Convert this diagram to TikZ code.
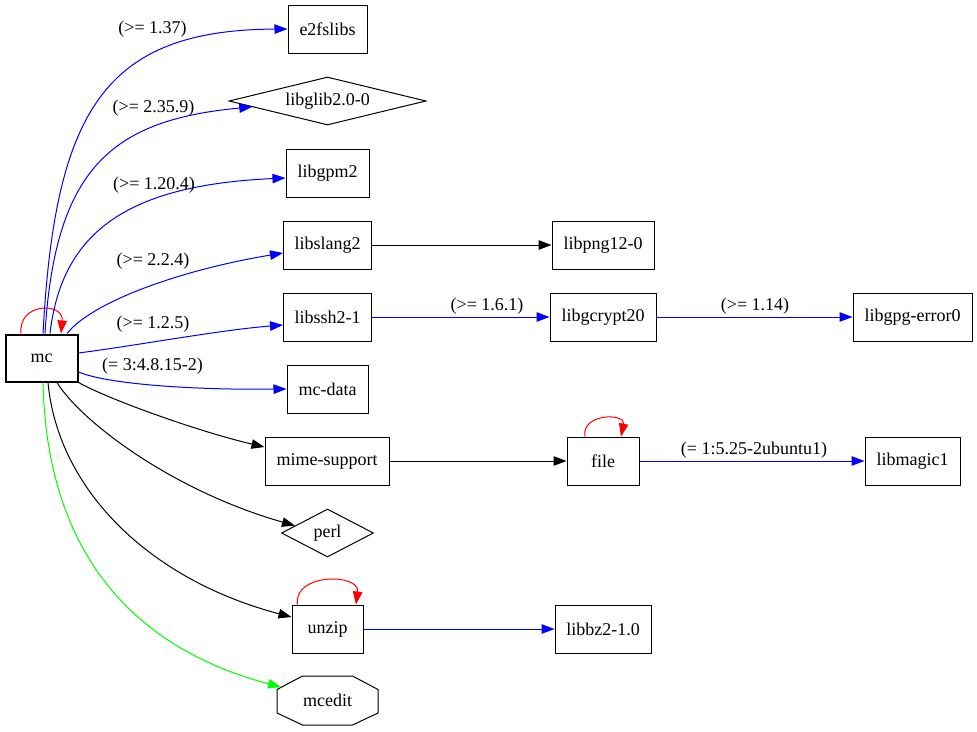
\documentclass[tikz,border=0pt]{standalone}
\usepackage{fontspec}
\setmainfont{Liberation Serif}
\usetikzlibrary{arrows.meta,shapes.geometric,calc}
\begin{document}
\begin{tikzpicture}[x=1pt,y=-1pt,
  font=\fontsize{18}{20}\selectfont,
  box/.style={draw, rectangle, line width=1pt, inner sep=0pt, minimum height=48},
  dia/.style={draw, diamond, line width=1pt, inner sep=0pt},
  edge/.style={line width=1pt, -{Triangle[length=13pt,width=9.5pt]}},
  lbl/.style={inner sep=0pt}]
\useasboundingbox[fill=white] (0,0) rectangle (977,731);

% nodes
\node[box, line width=2pt, minimum width=72, minimum height=47] (mc) at (41.5,358) {mc};
\node[box, minimum width=79] (e2fs) at (327.5,29) {e2fslibs};
\node[dia, minimum width=197, minimum height=48, shape aspect=4] (glib) at (327.5,101) {libglib2.0-0};
\node[box, minimum width=83] (gpm) at (327.5,173) {libgpm2};
\node[box, minimum width=88] (slang) at (327.5,245) {libslang2};
\node[box, minimum width=102] (png) at (603,245) {libpng12-0};
\node[box, minimum width=88] (ssh) at (327.5,317) {libssh2-1};
\node[box, minimum width=106] (gcrypt) at (603,317) {libgcrypt20};
\node[box, minimum width=119] (gpgerr) at (912.5,317) {libgpg-error0};
\node[box, minimum width=81] (mcdata) at (327.5,389) {mc-data};
\node[box, minimum width=124] (mime) at (327,461) {mime-support};
\node[box, minimum width=72] (file) at (603,461) {file};
\node[box, minimum width=95] (magic) at (912.5,461) {libmagic1};
\node[dia, minimum width=92, minimum height=48, shape aspect=1.9] (perl) at (327.5,533) {perl};
\node[box, minimum width=71] (unzip) at (327.5,629) {unzip};
\node[box, minimum width=96] (bz2) at (603,629) {libbz2-1.0};
\node[rectangle, inner sep=0pt, minimum width=101, minimum height=49] (mcedit) at (327.5,700.5) {mcedit};
\draw[line width=1pt] ($(mcedit.center)+(-25,-24.5)$) -- ($(mcedit.center)+(25,-24.5)$)
  -- ($(mcedit.center)+(50.5,-11)$) -- ($(mcedit.center)+(50.5,12.5)$)
  -- ($(mcedit.center)+(25,24.5)$) -- ($(mcedit.center)+(-25,24.5)$)
  -- ($(mcedit.center)+(-50.5,12.5)$) -- ($(mcedit.center)+(-50.5,-11)$) -- cycle;
\coordinate (mceditin) at ($(mcedit.center)+(-46.5,-13.5)$);

% labels
\node[lbl] (l1) at (152.5,29) {(>= 1.37)};
\node[lbl] (l2) at (153.5,108) {(>= 2.35.9)};
\node[lbl] (l3) at (154,185) {(>= 1.20.4)};
\node[lbl] (l4) at (153,261) {(>= 2.2.4)};
\node[lbl] (l5) at (153,324) {(>= 1.2.5)};
\node[lbl] (l6) at (152.5,366) {(= 3:4.8.15-2)};
\node[lbl] (l7) at (487,306) {(>= 1.6.1)};
\node[lbl] (l8) at (755,306) {(>= 1.14)};
\node[lbl] (l9) at (754,450) {(= 1:5.25-2ubuntu1)};

% self loops
\draw[edge, red] ([xshift=-20.5]mc.north) .. controls (18,302) and (64,302) .. ([xshift=19.5]mc.north);
\draw[edge, red] ([xshift=-18]file.north) .. controls (581,413) and (626,413) .. ([xshift=18]file.north);
\draw[edge, red] ([xshift=-30]unzip.north) .. controls (293,573) and (360,573) .. ([xshift=28.5]unzip.north);

% edges from mc
\draw[edge, blue] ([xshift=1.5]mc.north) .. controls (55,110) and (105,30) .. (e2fs.west);
\draw[edge, blue] ([xshift=3.5]mc.north) .. controls (55,170) and (110,120) .. ($(glib.west)!0.24!(glib.south)$);
\draw[edge, blue] ([xshift=8.5]mc.north) .. controls (62,230) and (130,185) .. ([yshift=-5]gpm.west);
\draw[edge, blue] ([xshift=25.5]mc.north) .. controls (92,302) and (180,270) .. ([yshift=-8]slang.west);
\draw[edge, blue] ([yshift=5]mc.east) .. controls (140,345) and (220,330) .. ([yshift=-8]ssh.west);
\draw[edge, blue] ([yshift=-14]mc.east) .. controls (110,385) and (200,390) .. (mcdata.west);
\draw[edge] (mc.south east) .. controls (110,400) and (200,432) .. ([yshift=14]mime.west);
\draw[edge] ([xshift=15.5]mc.south) .. controls (80,420) and (170,490) .. ($(perl.west)!0.3!(perl.north)$);
\draw[edge] ([xshift=6.5]mc.south) .. controls (58,490) and (150,580) .. ([yshift=12]unzip.west);
\draw[edge, green] ([xshift=1.5]mc.south) .. controls (47,560) and (140,650) .. (mceditin);

% straight edges
\draw[edge] (slang.east) -- (png.west);
\draw[edge, blue] (ssh.east) -- (gcrypt.west);
\draw[edge, blue] (gcrypt.east) -- (gpgerr.west);
\draw[edge] (mime.east) -- (file.west);
\draw[edge, blue] (file.east) -- (magic.west);
\draw[edge, blue] (unzip.east) -- (bz2.west);
\end{tikzpicture}
\end{document}
